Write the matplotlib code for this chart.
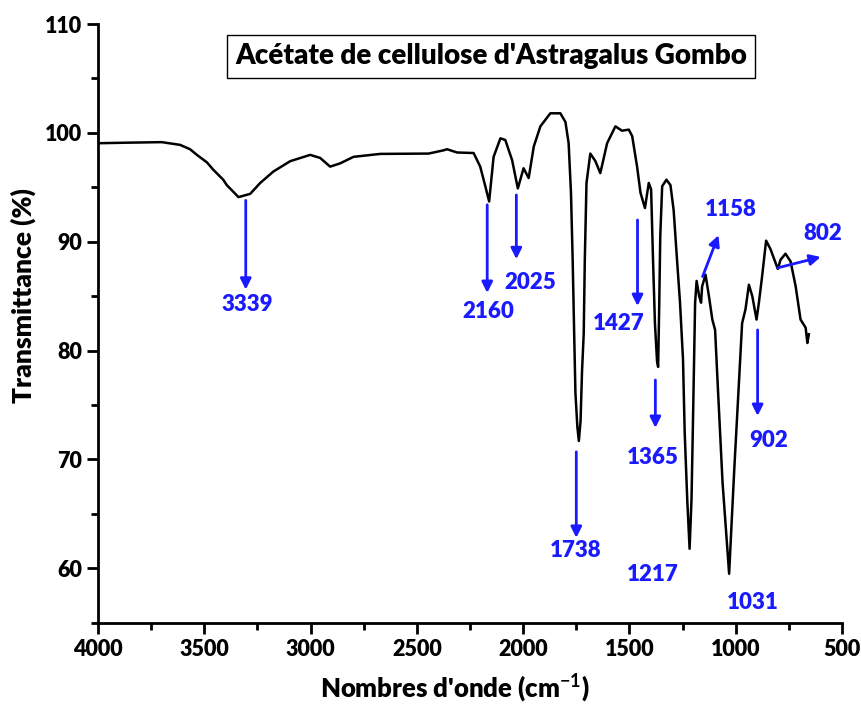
import matplotlib
matplotlib.use("Agg")
import matplotlib.pyplot as plt
from matplotlib.ticker import MultipleLocator

# FTIR spectrum (wavenumber in cm-1, transmittance in %)
wavenumber = [4000, 3865, 3700, 3614, 3567, 3535, 3488, 3457, 3411, 3394, 3339,
              3284, 3237, 3175, 3096, 3002, 2955, 2908, 2861, 2798, 2672, 2445,
              2374, 2358, 2311, 2233, 2202, 2178, 2160, 2139, 2107, 2084, 2052,
              2025, 1998, 1974, 1950, 1919, 1872, 1825, 1801, 1786, 1775, 1767,
              1760, 1754, 1745, 1738, 1730, 1723, 1715, 1710, 1702, 1684, 1660,
              1637, 1605, 1566, 1535, 1503, 1487, 1464, 1448, 1427, 1420, 1409,
              1398, 1389, 1380, 1370, 1365, 1360, 1355, 1346, 1326, 1307, 1292,
              1276, 1262, 1248, 1240, 1228, 1217, 1208, 1202, 1196, 1191, 1184,
              1172, 1163, 1158, 1142, 1126, 1110, 1097, 1085, 1062, 1045, 1031,
              1020, 1006, 985, 970, 954, 938, 922, 902, 891, 876, 857, 836, 802,
              789, 766, 742, 718, 695, 671, 663, 656]
transmittance = [99.05, 99.1, 99.15, 98.9, 98.5, 97.98, 97.3, 96.6, 95.7, 95.2, 94.1,
                 94.4, 95.4, 96.45, 97.4, 97.98, 97.7, 96.9, 97.2, 97.8, 98.07, 98.1,
                 98.4, 98.5, 98.2, 98.15, 96.9, 95.1, 93.7, 97.8, 99.5, 99.35, 97.5,
                 94.9, 96.75, 95.85, 98.75, 100.6, 101.8, 101.8, 101.0, 99.05, 94.5, 88.3,
                 81.6, 76.1, 73.0, 71.7, 73.5, 78.1, 81.6, 88.3, 95.4, 98.1, 97.4,
                 96.3, 99.05, 100.6, 100.2, 100.3, 99.7, 96.9, 94.5, 93.1, 94.0, 95.4,
                 94.8, 88.3, 82.5, 79.0, 78.5, 84.0, 90.5, 95.1, 95.7, 95.2, 92.9,
                 88.3, 84.4, 79.2, 72.45, 66.3, 61.8, 66.3, 72.5, 79.0, 84.4, 86.4,
                 85.0, 84.4, 85.9, 86.97, 85.0, 82.85, 81.9, 77.0, 67.9, 63.3, 59.5,
                 63.9, 69.4, 77.0, 82.5, 83.8, 86.05, 85.0, 82.85, 84.4, 86.8, 90.1, 89.3, 87.5,
                 88.35, 88.9, 88.2, 85.9, 82.85, 82.1, 80.7, 81.5]

peak_labels = ["3339", "2160", "2025", "1738", "1427", "1365",
               "1217", "1158", "1031", "902", "802"]

# arrow start/end and label position for each peak (x in cm-1, y in %)
arrow_layout = {
    "3339": ((3305, 93.8), (3305, 85.6), (3300, 84.2)),
    "2160": ((2169, 93.4), (2169, 85.3), (2165, 83.6)),
    "2025": ((2032, 94.3), (2032, 88.4), (1965, 86.3)),
    "1738": ((1750, 70.7), (1750, 62.8), (1755, 61.6)),
    "1427": ((1462, 92.0), (1462, 84.1), (1550, 82.5)),
    "1365": ((1378, 77.3), (1378, 72.9), (1392, 70.2)),
    "1217": (None, None, (1392, 59.4)),
    "1158": ((1156, 86.8), (1081, 90.6), (1024, 93.0)),
    "1031": (None, None, (922, 56.9)),
    "902":  ((897, 81.9), (897, 74.0), (845, 71.7)),
    "802":  ((803, 87.6), (600, 88.6), (590, 90.8)),
}

blue = "#1a1aff"
plt.rcParams['font.family'] = ['Lato', 'DejaVu Sans']
plt.rcParams['mathtext.fontset'] = 'custom'
plt.rcParams['mathtext.bf'] = 'Lato:bold'
plt.rcParams['mathtext.rm'] = 'Lato:bold'

fig = plt.figure(figsize=(8.62, 7.07), dpi=100)
ax = fig.add_axes([0.1137, 0.1192, 0.8631, 0.8468])

ax.plot(wavenumber, transmittance, color='black', lw=1.8)

for lab in peak_labels:
    start, end, text_pos = arrow_layout[lab]
    if start is not None:
        ax.annotate("", xy=end, xytext=start,
                    arrowprops=dict(arrowstyle='-|>', color=blue, lw=2,
                                    mutation_scale=16, shrinkA=0, shrinkB=0))
    ax.text(text_pos[0], text_pos[1], lab, color=blue, fontsize=16,
            fontweight='heavy', ha='center', va='center')

ax.set_xlim(4000, 500)
ax.set_ylim(55, 110)
ax.xaxis.set_major_locator(MultipleLocator(500))
ax.xaxis.set_minor_locator(MultipleLocator(250))
ax.yaxis.set_minor_locator(MultipleLocator(5))
ax.set_yticks([60, 70, 80, 90, 100, 110])

for side in ['top', 'right']:
    ax.spines[side].set_visible(False)
for side in ['left', 'bottom']:
    ax.spines[side].set_linewidth(2)
ax.tick_params(which='major', length=8, width=2, direction='out', labelsize=15.5)
ax.tick_params(which='minor', length=5, width=2, direction='out')
for t in ax.get_xticklabels() + ax.get_yticklabels():
    t.set_fontweight('heavy')

ax.set_xlabel("Nombres d'onde (cm$^{\\mathbf{-1}}$)", fontsize=18.5, fontweight='heavy')
ax.set_ylabel("Transmittance (%)", fontsize=19, fontweight='heavy')
ax.xaxis.set_label_coords(0.48, -0.082, transform=ax.transAxes)
ax.yaxis.set_label_coords(-0.083, 0.547, transform=ax.transAxes)

ax.text(0.528, 0.946, "Acétate de cellulose d'Astragalus Gombo", transform=ax.transAxes,
        fontsize=20, fontweight='heavy', ha='center', va='center',
        bbox=dict(boxstyle='square,pad=0.3', fc='white', ec='black', lw=1))

fig.savefig("out.png", dpi=100)
